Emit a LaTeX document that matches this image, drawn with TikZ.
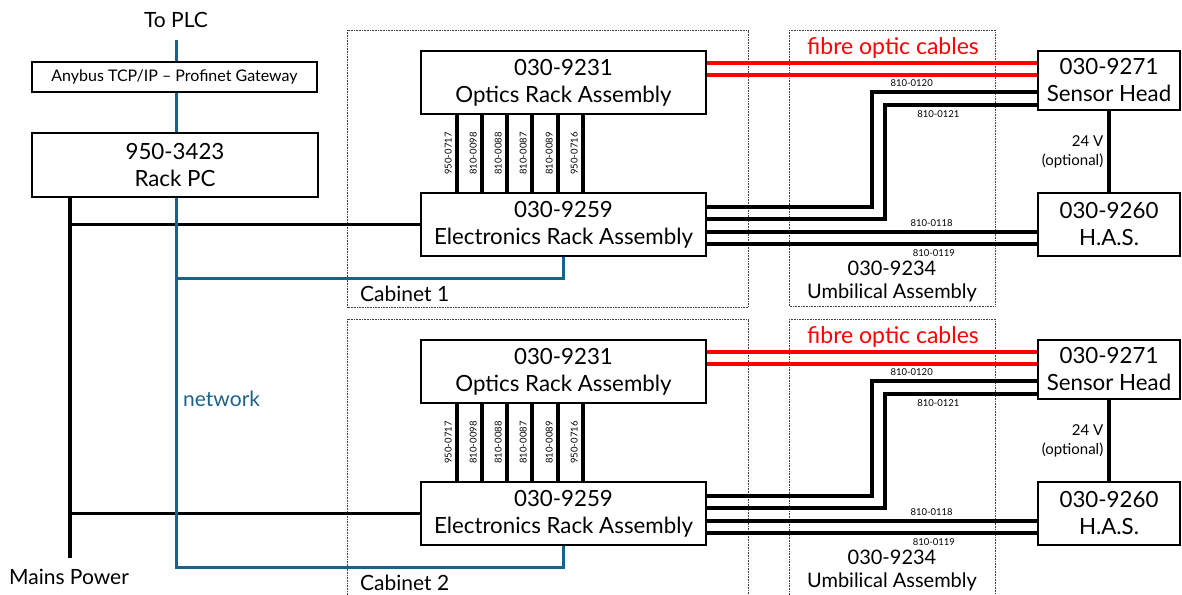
\documentclass[tikz,border=0pt]{standalone}
\usepackage{fontspec}
\setmainfont{Lato}
\definecolor{netblue}{RGB}{26,98,138}
\begin{document}
\begin{tikzpicture}[x=1pt,y=-1pt,
  box/.style={draw, line width=1.2pt, fill=white, align=center, inner sep=0pt,
    font=\fontsize{22.3}{27}\selectfont},
  cable/.style={line width=3.5pt},
  fibre/.style={line width=3.5pt, red},
  net/.style={line width=3pt, netblue},
  encl/.style={draw=black!75, line width=0.8pt, dash pattern=on 0.8pt off 0.8pt},
  clab/.style={font=\fontsize{9.5}{9.5}\selectfont, inner sep=1.5pt},
  lbl/.style={font=\fontsize{21}{23}\selectfont, inner sep=0pt, align=center}
  ]
\useasboundingbox (0,0) rectangle (1182,594);

% top-left
\node[lbl] (plc) at (176,20) {To PLC};
\coordinate (plcend) at (176,40);
\node[box, minimum width=285pt, minimum height=30pt, font=\fontsize{16}{16}\selectfont] (gw) at (174.5,77) {Anybus TCP/IP – Profinet Gateway};
\node[box, minimum width=286pt, minimum height=64pt] (pc) at (175,165) {950-3423\\Rack PC};
\node[lbl, netblue, anchor=west] (netlbl) at (183,399) {network};
\node[lbl] (mains) at (69,577) {Mains Power};

\foreach \k/\dy in {1/0,2/289}{
\begin{scope}[shift={(0,\dy)}]
  \draw[encl] (347.5,30) rectangle (748.5,307);
  \draw[encl] (789,30) rectangle (995,306);
  \node[box, minimum width=285pt, minimum height=63pt] (op\k) at (563.5,82.5) {030-9231\\Optics Rack Assembly};
  \node[box, minimum width=285pt, minimum height=63pt] (el\k) at (563.5,224.5) {030-9259\\Electronics Rack Assembly};
  \node[box, minimum width=142pt, minimum height=59pt] (sh\k) at (1109,80.5) {030-9271\\Sensor Head};
  \node[box, minimum width=142pt, minimum height=63pt] (ha\k) at (1109,224.5) {030-9260\\H.A.S.};
  \node[lbl, anchor=west] (cab\k) at (360,294) {Cabinet \k};
  \node[lbl, font=\fontsize{20}{23}\selectfont] (umb\k) at (892,281.5) {030-9234\\Umbilical Assembly};
  \node[lbl, red, font=\fontsize{23}{23}\selectfont] (fo\k) at (893,48) {fibre optic cables};
  % rack interconnects
  \foreach \x/\t in {457/950-0717, 482/810-0098, 507/810-0088, 532/810-0087, 558/810-0089, 583/950-0716}
    \draw[cable] (op\k.south -| \x,0) -- node[clab, rotate=90, above=2pt] {\t} (el\k.north -| \x,0);
  % fibre
  \draw[fibre] (op\k.east |- 0,63) -- (sh\k.west |- 0,63);
  \draw[fibre] (op\k.east |- 0,75) -- (sh\k.west |- 0,75);
  % umbilical cables
  \draw[cable] (el\k.east |- 0,207) -| (872,92) -- node[clab, above=2pt, pos=0.24] {810-0120} (sh\k.west |- 0,92);
  \draw[cable] (el\k.east |- 0,219) -| (885,105) -- node[clab, below=2pt, pos=0.35] {810-0121} (sh\k.west |- 0,105);
  \draw[cable] (el\k.east |- 0,232) -- node[clab, above=2pt, pos=0.68] {810-0118} (ha\k.west |- 0,232);
  \draw[cable] (el\k.east |- 0,244) -- node[clab, below=2pt, pos=0.687] {810-0119} (ha\k.west |- 0,244);
  % 24 V
  \draw[cable] (sh\k.south) -- node[left=4pt, align=right, inner sep=0pt, font=\fontsize{15}{19}\selectfont] {24 V\\(optional)} (ha\k.north);
  % power
  \draw[cable] (el\k.west -| 70,0) -- (el\k.west);
\end{scope}
}
% power trunk
\draw[cable] (pc.south -| 70,0) -- (70,558) coordinate (mainsend);
% network
\draw[net] (plcend) -- (gw.north -| plcend);
\draw[net] (gw.south -| plcend) -- (pc.north -| plcend);
\draw[net] (pc.south -| plcend) -- (176,567) -| (el2.south);
\draw[net] (176,278) -| (el1.south);
\end{tikzpicture}
\end{document}
